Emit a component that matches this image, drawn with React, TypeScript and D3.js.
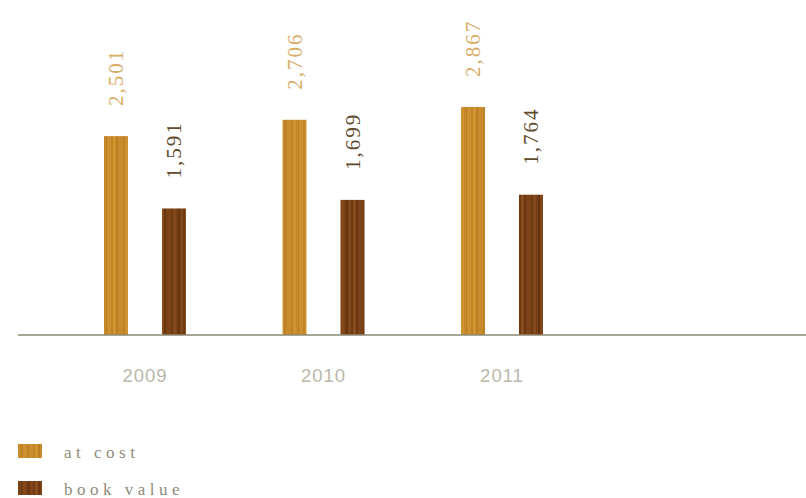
import React from "react";
import * as d3 from "d3";

const years = ["2009", "2010", "2011"];
const atCost = [2501, 2706, 2867];
const bookValue = [1591, 1699, 1764];
const seriesNames = ["at cost", "book value"];

const W = 806;
const H = 498;
const baseY = 335;

const grainCost = [
  ["#c98a2b", 0, 3], ["#c08226", 3, 2], ["#cf9231", 5, 3], ["#c6882a", 8, 2],
  ["#b87c22", 10, 1], ["#cc8f2f", 11, 4], ["#c28427", 15, 2], ["#d1952f", 17, 3],
  ["#bb7e24", 20, 2], ["#c98c2c", 22, 2],
];
const grainBook = [
  ["#7a4216", 0, 3], ["#6e3a12", 3, 2], ["#84481a", 5, 3], ["#763f16", 8, 2],
  ["#663410", 10, 2], ["#80461a", 12, 3], ["#703b13", 15, 2], ["#874b1c", 17, 3],
  ["#6a3611", 20, 2], ["#7a4418", 22, 2],
];

export default function App() {
  const x = d3.scaleBand().domain(years).range([55.75, 591.25]).padding(0);
  const inner = d3.scalePoint().domain(seriesNames).range([-29, 29]);
  const y = d3.scaleLinear().domain([0, 4200]).range([baseY, 1]);
  const barW = 24;

  const series = [
    { name: "at cost", values: atCost, fill: "url(#woodCost)", label: "#d8ac66" },
    { name: "book value", values: bookValue, fill: "url(#woodBook)", label: "#5e4a2c" },
  ];
  const fmt = d3.format(",");

  return (
    <svg
      width={W}
      height={H}
      style={{ position: "absolute", left: 0, top: 0, background: "#fff" }}
    >
      <defs>
        <pattern id="woodCost" patternUnits="userSpaceOnUse" width={24} height={400}>
          {grainCost.map(([c, px, w], i) => (
            <rect key={i} x={px as number} y={0} width={w as number} height={400} fill={c as string} />
          ))}
        </pattern>
        <pattern id="woodBook" patternUnits="userSpaceOnUse" width={24} height={400}>
          {grainBook.map(([c, px, w], i) => (
            <rect key={i} x={px as number} y={0} width={w as number} height={400} fill={c as string} />
          ))}
        </pattern>
      </defs>

      {series.map((s) =>
        years.map((yr, i) => {
          const cx = (x(yr) as number) + x.bandwidth() / 2 + (inner(s.name) as number);
          const top = y(s.values[i]);
          return (
            <g key={s.name + yr}>
              <rect
                x={cx - barW / 2}
                y={top}
                width={barW}
                height={baseY - top}
                fill={s.fill}
              />
              <text
                transform={`translate(${cx},${top - 30}) rotate(-90)`}
                dy="0.35em"
                fontFamily="'Liberation Serif', serif"
                fontSize={21}
                letterSpacing={2}
                fill={s.label}
              >
                {fmt(s.values[i])}
              </text>
            </g>
          );
        })
      )}

      <line x1={18} x2={806} y1={baseY} y2={baseY} stroke="#8c8873" strokeWidth={1.5} />

      {years.map((yr) => (
        <text
          key={yr}
          x={(x(yr) as number) + x.bandwidth() / 2}
          y={382}
          textAnchor="middle"
          fontFamily="'Liberation Sans', Arial, sans-serif"
          fontSize={18.5}
          letterSpacing={1}
          fill="#bab8a9"
        >
          {yr}
        </text>
      ))}

      {series.map((s, i) => (
        <g key={s.name} transform={`translate(18,${444 + i * 37})`}>
          <rect x={0} y={0} width={24} height={14} fill={s.fill} />
          <text
            x={46}
            y={14}
            fontFamily="'Liberation Serif', serif"
            fontSize={17}
            letterSpacing={4.5}
            fill="#8f8c79"
          >
            {s.name}
          </text>
        </g>
      ))}
    </svg>
  );
}
